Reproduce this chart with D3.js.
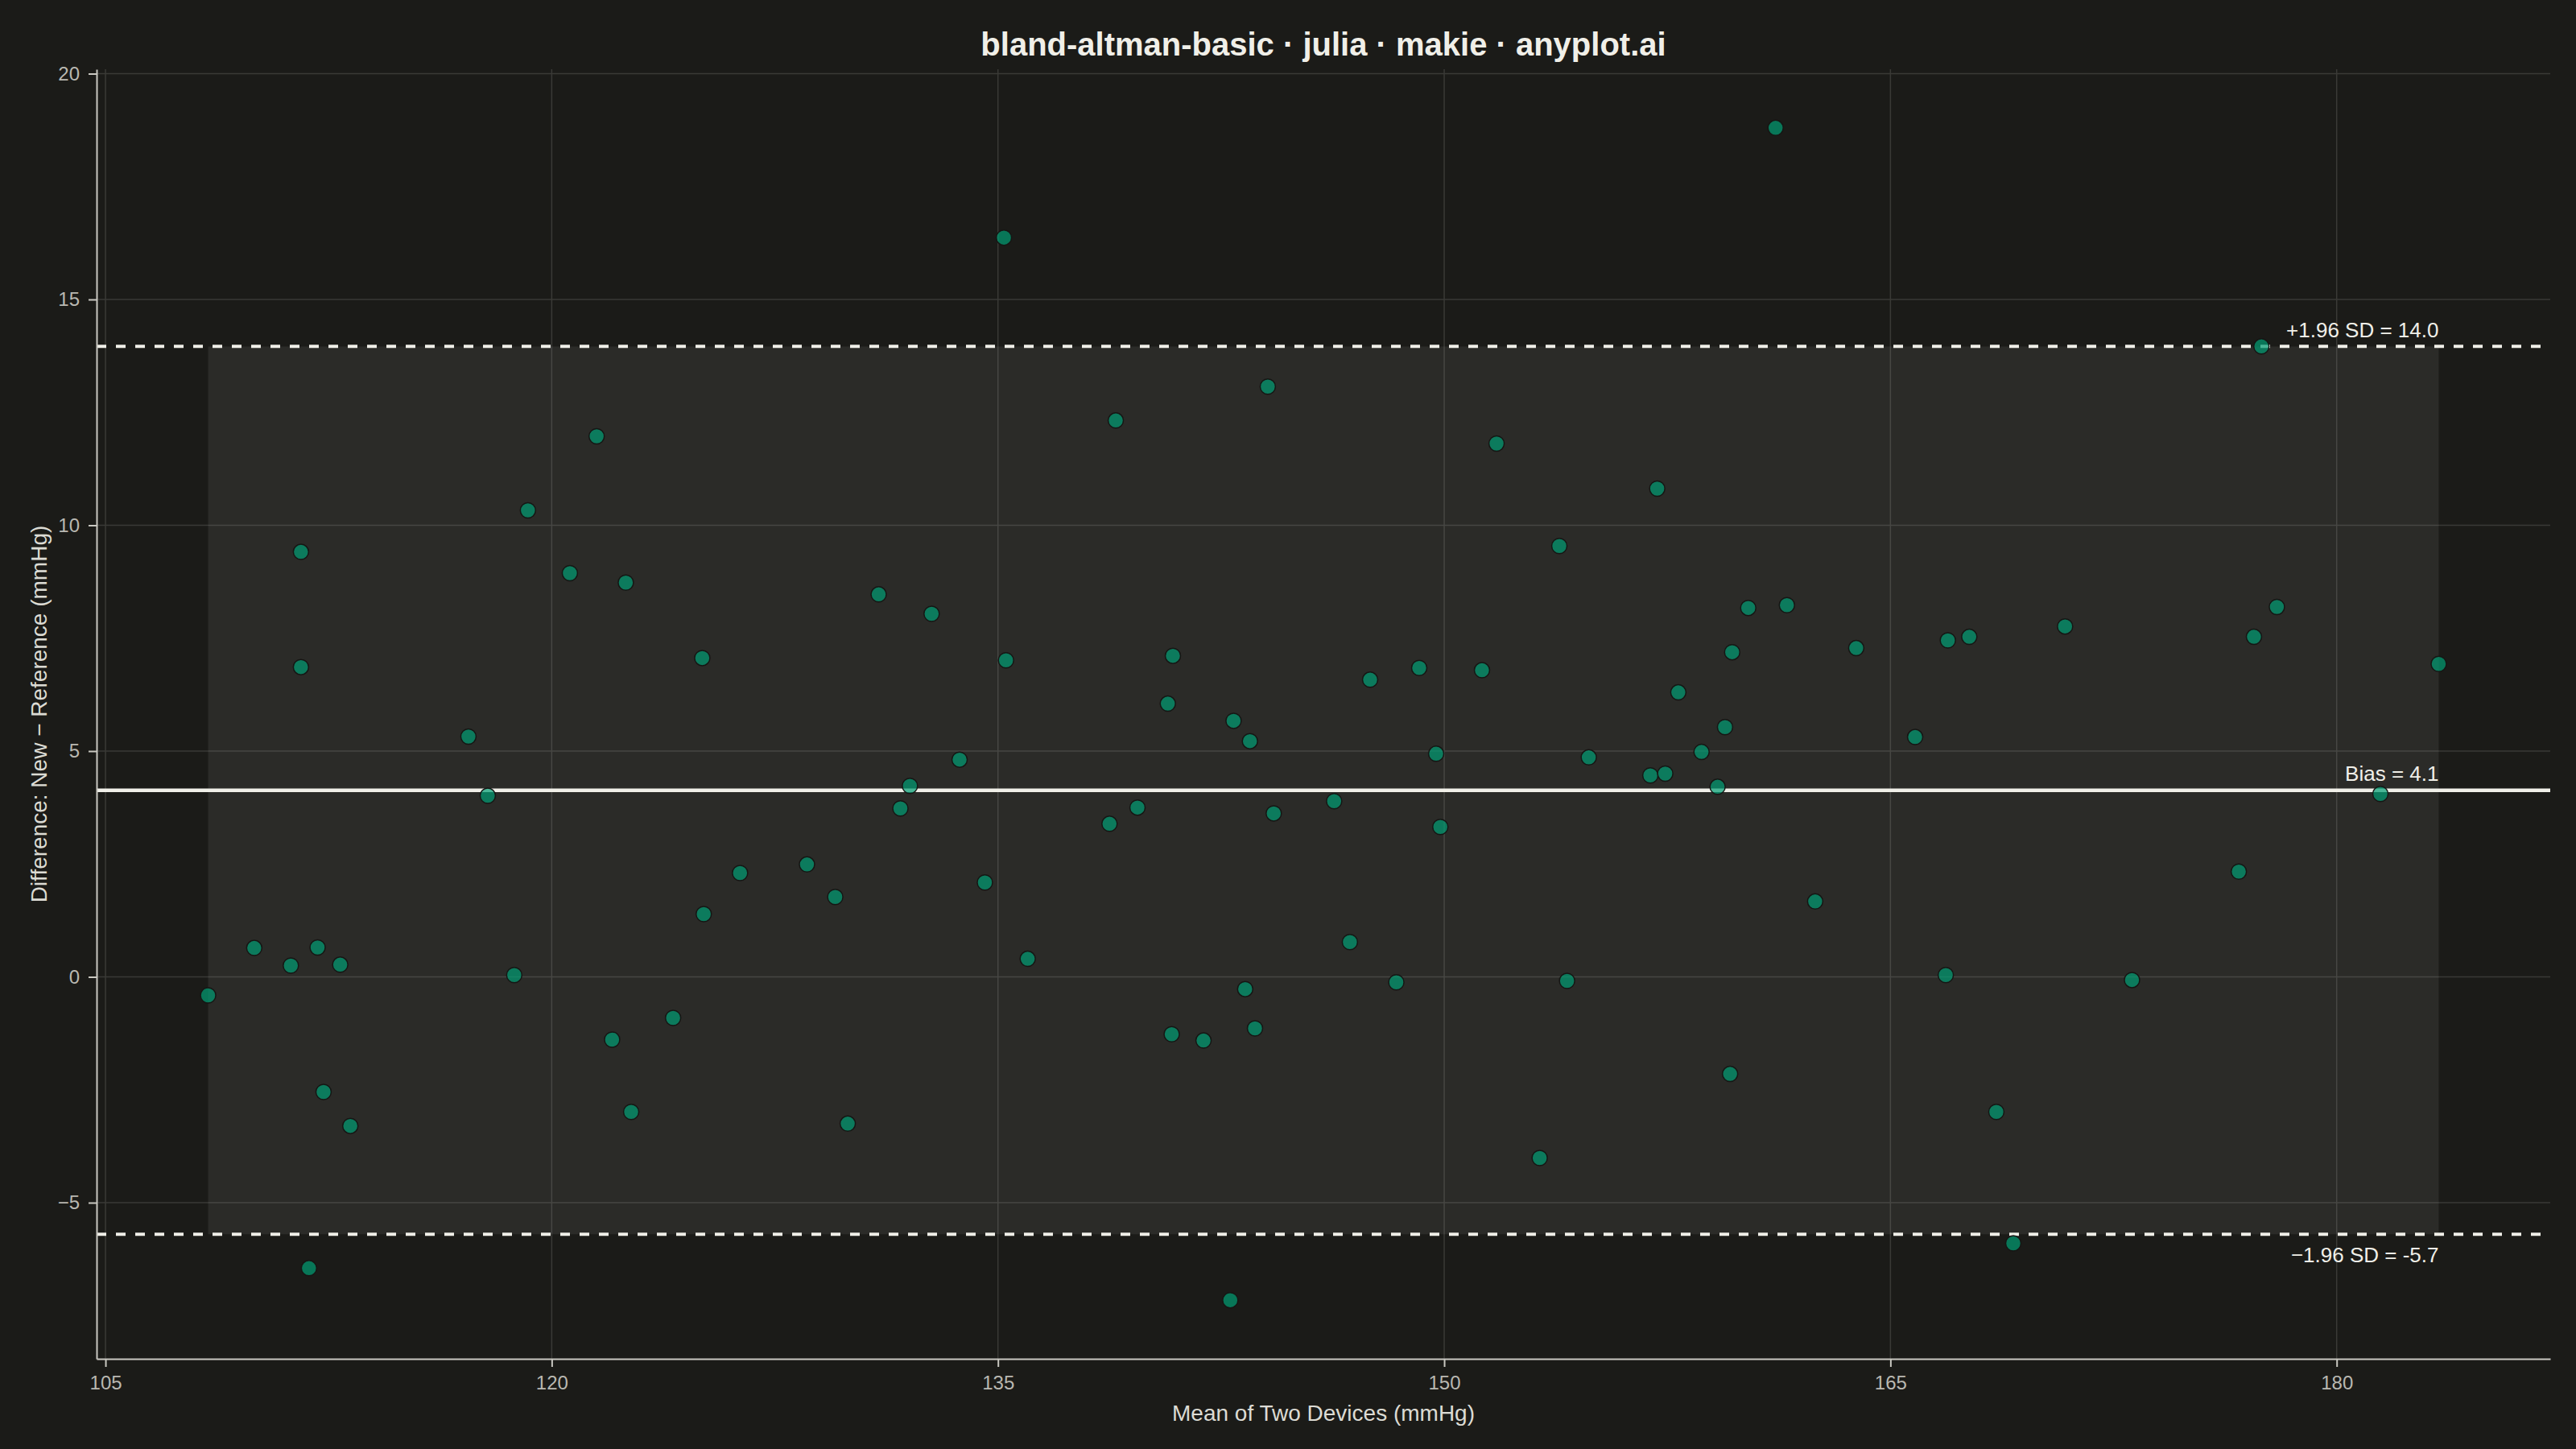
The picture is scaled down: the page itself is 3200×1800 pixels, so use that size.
<!DOCTYPE html>
<html>
<head>
<meta charset="utf-8">
<script src="https://cdn.jsdelivr.net/npm/d3@7"></script>
<style>
    body { margin: 0; background: #1b1b18; }
</style>
</head>
<body>
<div id="chart"></div>
<script>
const width = 3200,
    height = 1800

const margin = { top: 86, right: 32, bottom: 112, left: 120 }

const colors = {
    bg: "#1b1b18",
    band: "rgba(255,255,255,0.07)",
    grid: "#3a3a36",
    spine: "#c9c8c1",
    tickText: "#b9b8b1",
    label: "#dcdbd4",
    title: "#f0efe8",
    line: "#f0efe8",
    point: "#009E73",
    pointStroke: "#161614"
}

const font = "'Liberation Sans', Arial, Helvetica, sans-serif"

// mean of the two devices (mmHg)
const meanValues = [
    108.45, 110.00, 111.23, 111.57, 111.57, 111.84, 112.13, 112.33, 112.89, 113.23,
    117.20, 117.85, 118.74, 119.20, 120.61, 121.51, 122.03, 122.49, 122.67, 124.08,
    125.06, 125.11, 126.33, 128.58, 129.53, 129.95, 130.99, 131.72, 132.04, 132.77,
    133.71, 134.56, 135.20, 135.27, 136.00, 138.75, 138.96, 139.69, 140.71, 140.84,
    140.88, 141.91, 142.81, 142.92, 143.31, 143.47, 143.64, 144.07, 144.27, 146.30,
    146.83, 147.51, 148.39, 149.16, 149.73, 149.87, 151.27, 151.76, 153.21, 153.87,
    154.13, 154.86, 156.93, 157.16, 157.43, 157.87, 158.65, 159.19, 159.44, 159.68,
    159.61, 160.22, 161.14, 161.52, 162.47, 163.85, 165.83, 166.86, 166.93, 167.65,
    168.56, 169.13, 170.87, 173.12, 176.71, 177.22, 177.47, 177.99, 181.47, 183.43
]

// difference new - reference (mmHg)
const diffValues = [
    -0.41, 0.64, 0.25, 9.41, 6.86, -6.45, 0.65, -2.55, 0.27, -3.30,
    5.32, 4.01, 0.04, 10.33, 8.94, 11.97, -1.39, 8.73, -2.99, -0.91,
    7.06, 1.39, 2.30, 2.49, 1.77, -3.25, 8.47, 3.73, 4.23, 8.04,
    4.81, 2.09, 16.37, 7.01, 0.40, 3.39, 12.32, 3.75, 6.05, -1.27,
    7.11, -1.41, -7.16, 5.67, -0.27, 5.22, -1.14, 13.07, 3.62, 3.89,
    0.77, 6.58, -0.12, 6.84, 4.94, 3.32, 6.79, 11.81, -4.01, 9.54,
    -0.09, 4.86, 4.46, 10.81, 4.50, 6.30, 4.98, 4.21, 5.53, 7.19,
    -2.15, 8.17, 18.80, 8.23, 1.67, 7.28, 5.31, 0.04, 7.45, 7.53,
    -2.99, -5.90, 7.76, -0.07, 2.33, 7.53, 13.96, 8.19, 4.05, 6.93
]

const xTicks = [105, 120, 135, 150, 165, 180]
const yTicks = [-5, 0, 5, 10, 15, 20]

// bias and limits of agreement
const biasValue = 4.13
const upperLimit = 13.96
const lowerLimit = -5.70
const upperLabel = "+1.96 SD = 14.0"
const biasLabel = "Bias = 4.1"
const lowerLabel = "\u22121.96 SD = -5.7"

const titleText = "bland-altman-basic \u00b7 julia \u00b7 makie \u00b7 anyplot.ai"
const xLabel = "Mean of Two Devices (mmHg)"
const yLabel = "Difference: New \u2212 Reference (mmHg)"

const points = meanValues.map((m, i) => ({ mean: m, diff: diffValues[i] }))

// makie style autolimits: data extent plus 5% each side
function padded(values) {
    const [lo, hi] = d3.extent(values)
    const pad = (hi - lo) * 0.05
    return [lo - pad, hi + pad]
}

const x = d3.scaleLinear()
    .domain(padded(meanValues))
    .range([margin.left, width - margin.right])

const y = d3.scaleLinear()
    .domain(padded(diffValues))
    .range([height - margin.bottom, margin.top])

const fmt = d => d < 0 ? "\u2212" + Math.abs(d) : String(d)

const svg = d3.select("#chart")
    .append("svg")
        .attr("width", width)
        .attr("height", height)
        .style("display", "block")

svg.append("rect")
    .attr("width", width)
    .attr("height", height)
    .attr("fill", colors.bg)

// grid
svg.append("g")
    .selectAll("line")
    .data(xTicks)
    .join("line")
        .attr("x1", d => x(d))
        .attr("x2", d => x(d))
        .attr("y1", margin.top)
        .attr("y2", height - margin.bottom)
        .attr("stroke", colors.grid)
        .attr("stroke-width", 1.5)

svg.append("g")
    .selectAll("line")
    .data(yTicks)
    .join("line")
        .attr("x1", margin.left)
        .attr("x2", width - margin.right)
        .attr("y1", d => y(d))
        .attr("y2", d => y(d))
        .attr("stroke", colors.grid)
        .attr("stroke-width", 1.5)

// agreement band spans the observed means
const [minMean, maxMean] = d3.extent(meanValues)
svg.append("rect")
    .attr("x", x(minMean))
    .attr("y", y(upperLimit))
    .attr("width", x(maxMean) - x(minMean))
    .attr("height", y(lowerLimit) - y(upperLimit))
    .attr("fill", colors.band)

// reference lines
const refLines = [
    { v: upperLimit, dash: "12 12", w: 4 },
    { v: lowerLimit, dash: "12 12", w: 4 },
    { v: biasValue, dash: null, w: 4.5 }
]
svg.append("g")
    .selectAll("line")
    .data(refLines)
    .join("line")
        .attr("x1", margin.left)
        .attr("x2", width - margin.right)
        .attr("y1", d => y(d.v))
        .attr("y2", d => y(d.v))
        .attr("stroke", colors.line)
        .attr("stroke-width", d => d.w)
        .attr("stroke-dasharray", d => d.dash)

// points
svg.append("g")
    .selectAll("circle")
    .data(points)
    .join("circle")
        .attr("cx", d => x(d.mean))
        .attr("cy", d => y(d.diff))
        .attr("r", 9.5)
        .attr("fill", colors.point)
        .attr("fill-opacity", 0.7)
        .attr("stroke", colors.pointStroke)
        .attr("stroke-width", 1.5)

// axes
const xAxis = svg.append("g")
    .attr("transform", `translate(0,${height - margin.bottom})`)
    .call(d3.axisBottom(x).tickValues(xTicks).tickFormat(fmt)
        .tickSize(10).tickSizeOuter(0).tickPadding(11))

const yAxis = svg.append("g")
    .attr("transform", `translate(${margin.left},0)`)
    .call(d3.axisLeft(y).tickValues(yTicks).tickFormat(fmt)
        .tickSize(10).tickSizeOuter(0).tickPadding(11))

;[xAxis, yAxis].forEach(g => {
    g.select(".domain")
        .attr("stroke", colors.spine)
        .attr("stroke-width", 2)
    g.selectAll(".tick line")
        .attr("stroke", colors.spine)
        .attr("stroke-width", 2)
    g.selectAll(".tick text")
        .attr("fill", colors.tickText)
        .style("font-family", font)
        .style("font-size", "24px")
})

// annotations, right aligned at the last mean
const labelX = x(maxMean)
const annotations = [
    { text: upperLabel, y: y(upperLimit) - 11 },
    { text: biasLabel, y: y(biasValue) - 12 },
    { text: lowerLabel, y: y(lowerLimit) + 35 }
]
svg.append("g")
    .selectAll("text")
    .data(annotations)
    .join("text")
        .attr("x", labelX)
        .attr("y", d => d.y)
        .attr("text-anchor", "end")
        .attr("fill", colors.title)
        .style("font-family", font)
        .style("font-size", "26px")
        .text(d => d.text)

// title and axis labels
const plotMid = (margin.left + width - margin.right) / 2

svg.append("text")
    .attr("x", plotMid)
    .attr("y", 69)
    .attr("text-anchor", "middle")
    .attr("fill", colors.title)
    .style("font-family", font)
    .style("font-size", "40px")
    .style("font-weight", "bold")
    .text(titleText)

svg.append("text")
    .attr("x", plotMid)
    .attr("y", 1765)
    .attr("text-anchor", "middle")
    .attr("fill", colors.label)
    .style("font-family", font)
    .style("font-size", "28px")
    .text(xLabel)

svg.append("text")
    .attr("transform", `translate(48,${(margin.top + height - margin.bottom) / 2}) rotate(-90)`)
    .attr("text-anchor", "middle")
    .attr("dominant-baseline", "central")
    .attr("fill", colors.label)
    .style("font-family", font)
    .style("font-size", "28px")
    .text(yLabel)
</script>
</body>
</html>
